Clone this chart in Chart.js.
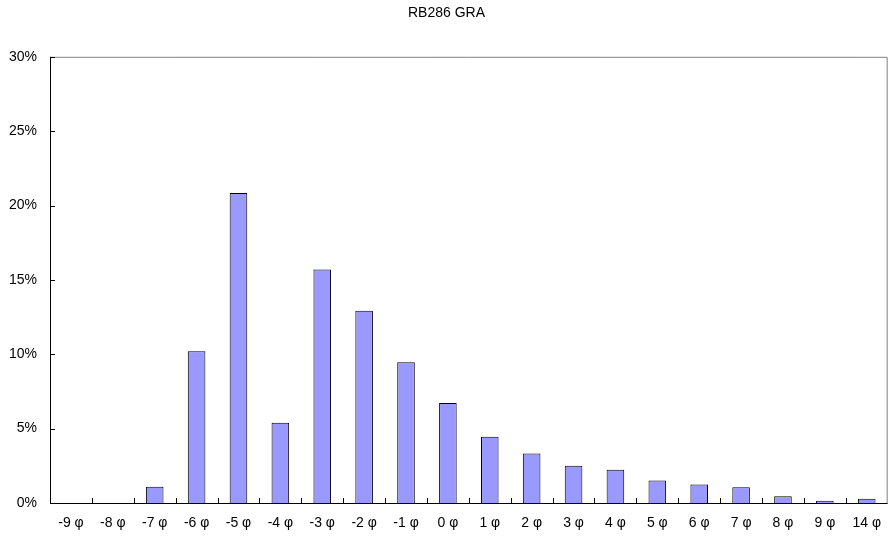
<!DOCTYPE html>
<html>
<head>
<meta charset="utf-8">
<script src="https://cdn.jsdelivr.net/npm/chart.js@4/dist/chart.umd.min.js"></script>
<style>
  html, body { margin: 0; padding: 0; background: #fff; }
  #wrap { width: 893px; height: 537px; }
</style>
</head>
<body>
<div id="wrap"><canvas id="myChartBar"></canvas></div>
<script>
const categories = ["-9 φ", "-8 φ", "-7 φ", "-6 φ", "-5 φ", "-4 φ", "-3 φ", "-2 φ", "-1 φ", "0 φ",
  "1 φ", "2 φ", "3 φ", "4 φ", "5 φ", "6 φ", "7 φ", "8 φ", "9 φ", "14 φ"];
const percents = [0, 0, 1.1, 10.2, 20.85, 5.4, 15.7, 12.93, 9.46, 6.72,
  4.45, 3.33, 2.5, 2.23, 1.51, 1.24, 1.06, 0.46, 0.15, 0.28];
const yTicks = [0, 5, 10, 15, 20, 25, 30];
const title = "RB286 GRA";

// frame + inward tick marks, like the old spreadsheet charts
const frameTicks = {
  id: "frameTicks",
  afterDraw(chart) {
    const { ctx, chartArea: a, scales } = chart;
    ctx.save();
    ctx.lineWidth = 1;
    ctx.strokeStyle = "#808080";
    ctx.beginPath();
    ctx.moveTo(a.left, a.top + 0.5);
    ctx.lineTo(a.right - 0.5, a.top + 0.5);
    ctx.lineTo(a.right - 0.5, a.bottom);
    ctx.stroke();

    ctx.strokeStyle = "#000";
    ctx.beginPath();
    ctx.moveTo(a.left + 0.5, a.top);
    ctx.lineTo(a.left + 0.5, a.bottom + 0.5);
    ctx.lineTo(a.right, a.bottom + 0.5);
    yTicks.forEach((v) => {
      const py = Math.round(scales.y.getPixelForValue(v)) + 0.5;
      ctx.moveTo(a.left, py);
      ctx.lineTo(a.left + 5, py);
    });
    const step = (a.right - a.left) / categories.length;
    for (let i = 1; i < categories.length; i++) {
      const px = Math.round(scales.x.getPixelForValue(i) - step / 2) + 0.5;
      ctx.moveTo(px, a.bottom);
      ctx.lineTo(px, a.bottom - 5);
    }
    ctx.stroke();
    ctx.restore();
  },
};

const canvas = document.getElementById("myChartBar");
const myChart = new Chart(canvas, {
  type: "bar",
  data: {
    labels: categories,
    datasets: [
      {
        label: title,
        data: percents,
        backgroundColor: "#9999FF",
        borderColor: "#000000",
        borderWidth: 1,
        barPercentage: 0.42,
        categoryPercentage: 1,
      },
    ],
  },
  options: {
    responsive: true,
    maintainAspectRatio: false,
    animation: false,
    layout: { padding: { left: 0, right: 0, top: 0, bottom: 0 } },
    plugins: {
      legend: { display: false },
      tooltip: { enabled: false },
      title: {
        display: true,
        text: title,
        color: "#000",
        font: { family: "Liberation Sans, Arial, sans-serif", size: 14, weight: "normal" },
        padding: { top: 5, bottom: 35 },
      },
    },
    scales: {
      x: {
        grid: { display: false, drawTicks: false },
        border: { display: false },
        ticks: {
          color: "#000",
          padding: 12,
          maxRotation: 0,
          autoSkip: false,
          font: { family: "Liberation Sans, Arial, sans-serif", size: 14 },
        },
        afterFit(scale) { scale.height = 34; },
      },
      y: {
        min: 0,
        max: 30,
        grid: { display: false, drawTicks: false },
        border: { display: false },
        afterBuildTicks(scale) { scale.ticks = yTicks.map((v) => ({ value: v })); },
        ticks: {
          color: "#000",
          padding: 13,
          font: { family: "Liberation Sans, Arial, sans-serif", size: 14 },
          callback: (v) => v + "%",
        },
        afterFit(scale) { scale.width = 50; },
      },
    },
  },
  plugins: [frameTicks],
});
</script>
</body>
</html>
